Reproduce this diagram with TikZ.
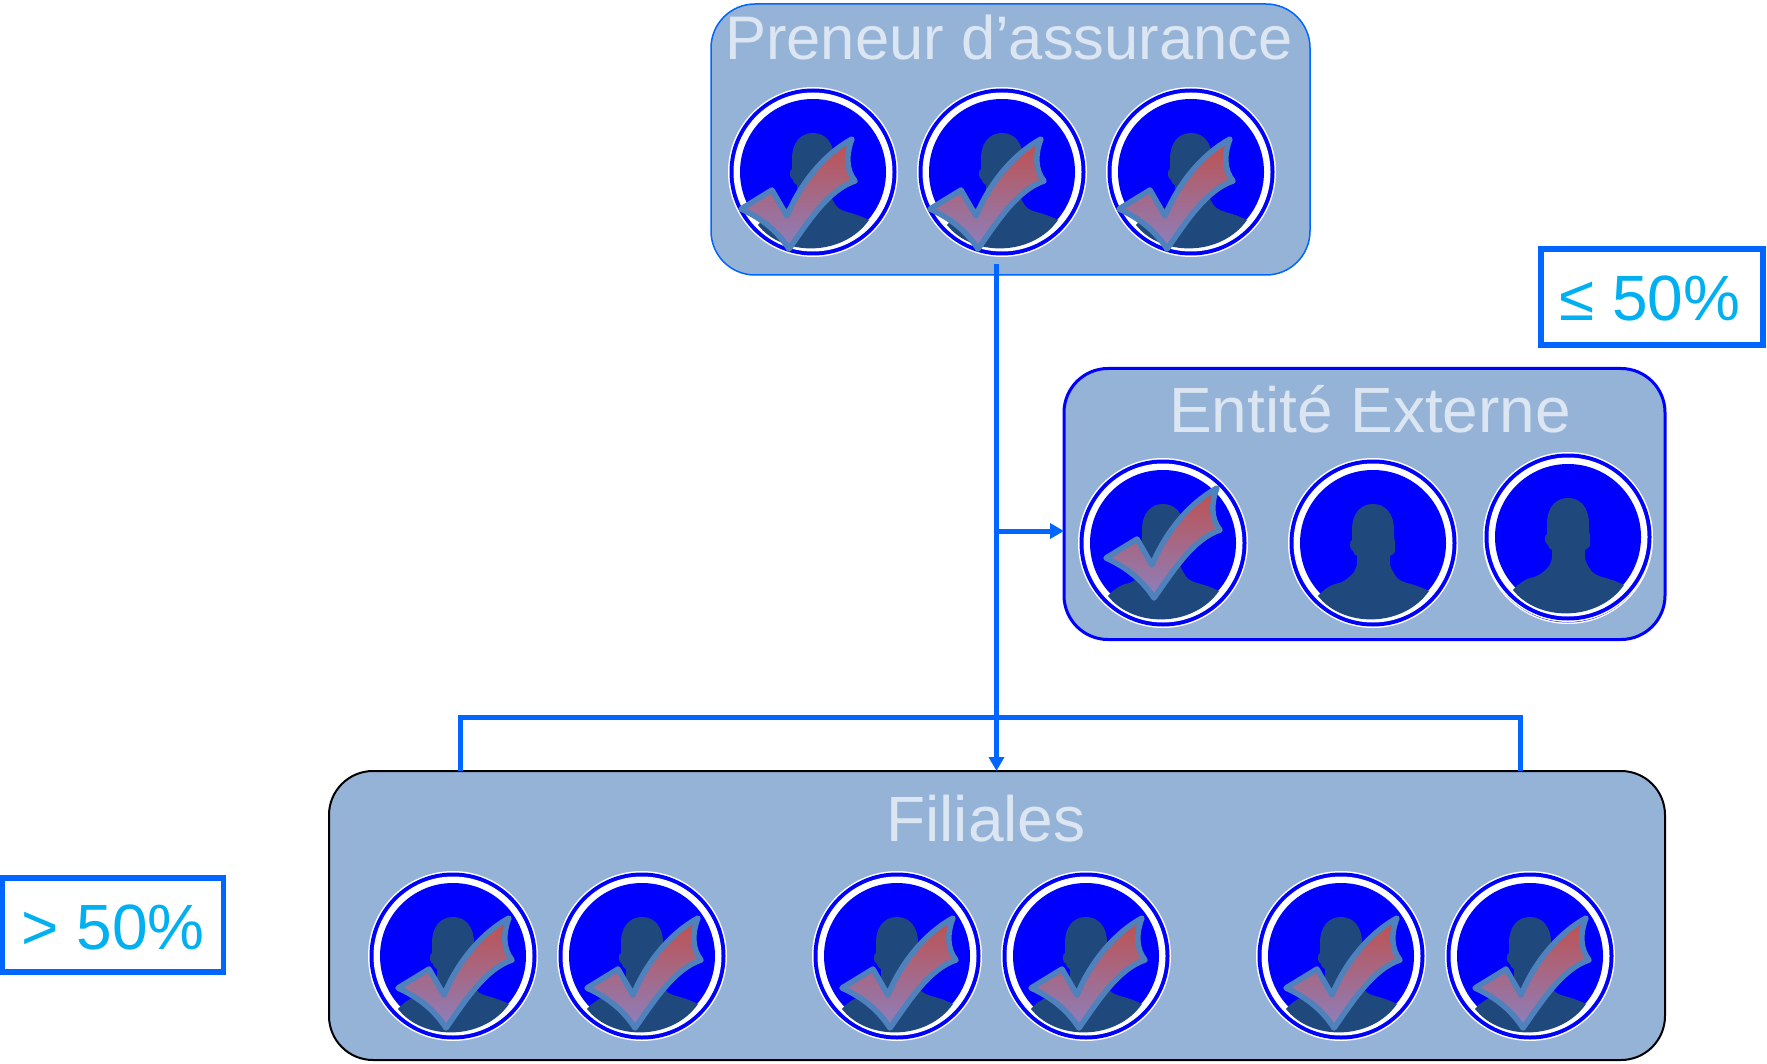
\documentclass[tikz,border=0pt]{standalone}
\usepackage{fontspec}
\setmainfont{Liberation Sans}
\usetikzlibrary{arrows.meta}

\definecolor{boxfill}{HTML}{95B3D7}
\definecolor{boxtext}{HTML}{DCE6F2}
\definecolor{linkblue}{HTML}{0066FF}
\definecolor{ratetext}{HTML}{00B0F0}
\definecolor{bustblue}{HTML}{1F497D}
\definecolor{tickline}{HTML}{4F81BD}
\definecolor{tickred}{HTML}{C0504D}
\definecolor{tickpurple}{HTML}{8B80BE}

\tikzset{
    group/.style={draw,fill=boxfill,rounded corners=44pt,outer sep=0pt,inner sep=0pt},
    grouptitle/.style={anchor=base,text=boxtext,inner sep=0pt,font=\fontsize{64}{64}\selectfont},
    rate/.style={draw=linkblue,line width=5.5pt,fill=white,outer sep=0pt,inner sep=0pt},
    ratetitle/.style={anchor=base,text=ratetext,inner sep=0pt,font=\fontsize{64}{64}\selectfont},
    link/.style={draw=linkblue,line width=5pt},
    person/.pic={
        \fill[white] (0,0) circle (85pt);
        \fill[blue] (0,0) circle (83.5pt);
        \fill[white] (0,0) circle (79.5pt);
        \fill[blue] (0,0) circle (73pt);
        \fill[bustblue] (-55,53) .. controls (-30,85) and (30,85) .. (56,48)
            .. controls (48,44) and (42,42) .. (34,40)
            .. controls (28,38) and (24,36) .. (22,32)
            .. controls (19,27) and (17,24) .. (17,20)
            -- (17,13) .. controls (20,11) and (23,10) .. (22,6)
            -- (22,-2) .. controls (21,-3) and (21,-8) .. (21,-13)
            .. controls (21,-30) and (12,-39) .. (0,-39)
            .. controls (-12,-39) and (-21,-30) .. (-21,-13)
            -- (-21,-3) .. controls (-24,-2) and (-24,6) .. (-20,8)
            .. controls (-19,12) and (-17,12) .. (-16,13)
            -- (-16,20) .. controls (-16,24) and (-18,26) .. (-19,29)
            .. controls (-23,34) and (-30,40) .. (-38,41)
            .. controls (-44,43) and (-50,47) .. (-55,53) -- cycle;
    },
    tick/.pic={
        \draw[draw=tickline,line width=5.5pt,line join=round,top color=tickred,bottom color=tickpurple]
            (-72,37) -- (-41,18) -- (-26,44)
            .. controls (-12,10) and (12,-18) .. (39,-33)
            .. controls (33,-18) and (33,-2) .. (42,9)
            .. controls (15,18) and (-5,50) .. (-24,77)
            .. controls (-35,60) and (-50,47) .. (-72,37) -- cycle;
    }
}

\begin{document}
\begin{tikzpicture}[x=1pt,y=-1pt]
    \useasboundingbox (0,0) rectangle (1767,1064);

    \node (preneur) at (1010.5,139.5) [group,draw=linkblue,line width=1.5pt,minimum width=599pt,minimum height=271pt] {};
    \node (externe) at (1364.5,504) [group,draw=blue,line width=3pt,minimum width=601pt,minimum height=271pt] {};
    \node (filiales) at (997,915.5) [group,draw=black,line width=2pt,minimum width=1336pt,minimum height=289pt] {};

    \node (preneurtitle) at (1009,60) [grouptitle,font=\fontsize{61.5}{61.5}\selectfont] {Preneur d’assurance};
    \node (externetitle) at (1370,432) [grouptitle] {Entité Externe};
    \node (filialestitle) at (986,841) [grouptitle] {Filiales};

    \pic at (813,172) {person};
    \pic at (1002,172) {person};
    \pic at (1191,172) {person};
    \pic at (813,172) {tick};
    \pic at (1002,172) {tick};
    \pic at (1191,172) {tick};

    \pic at (1163,543) {person};
    \pic at (1373,543) {person};
    \pic at (1568,539) {person};
    \pic at (1568,537) {person};
    \pic at (1178,521) {tick};

    \pic at (453,956) {person};
    \pic at (642,956) {person};
    \pic at (897,956) {person};
    \pic at (1086,956) {person};
    \pic at (1341,956) {person};
    \pic at (1530,956) {person};
    \pic at (470,951) {tick};
    \pic at (659,951) {tick};
    \pic at (914,951) {tick};
    \pic at (1103,951) {tick};
    \pic at (1358,951) {tick};
    \pic at (1547,951) {tick};

    \node (high) at (113,925) [rate,minimum width=221pt,minimum height=94pt] {};
    \node (low) at (1652,297) [rate,minimum width=222pt,minimum height=96pt] {};
    \node (hightitle) at (113,949) [ratetitle] {> 50\%};
    \node (lowtitle) at (1650,321) [ratetitle] {≤ 50\%};

    \coordinate (trunk) at (996.5,264);
    \coordinate (fork) at (996.5,531);
    \coordinate (barleft) at (460,717);
    \coordinate (barright) at (1520,717);

    \draw[link,-{Triangle[length=14pt,width=15pt]}] (trunk) -- (filiales.north -| trunk);
    \draw[link,-{Triangle[length=14pt,width=15pt]}] (fork) -- (fork -| externe.west);
    \draw[link] (filiales.north -| barleft) -- (barleft) -- (barright) -- (filiales.north -| barright);
\end{tikzpicture}
\end{document}
